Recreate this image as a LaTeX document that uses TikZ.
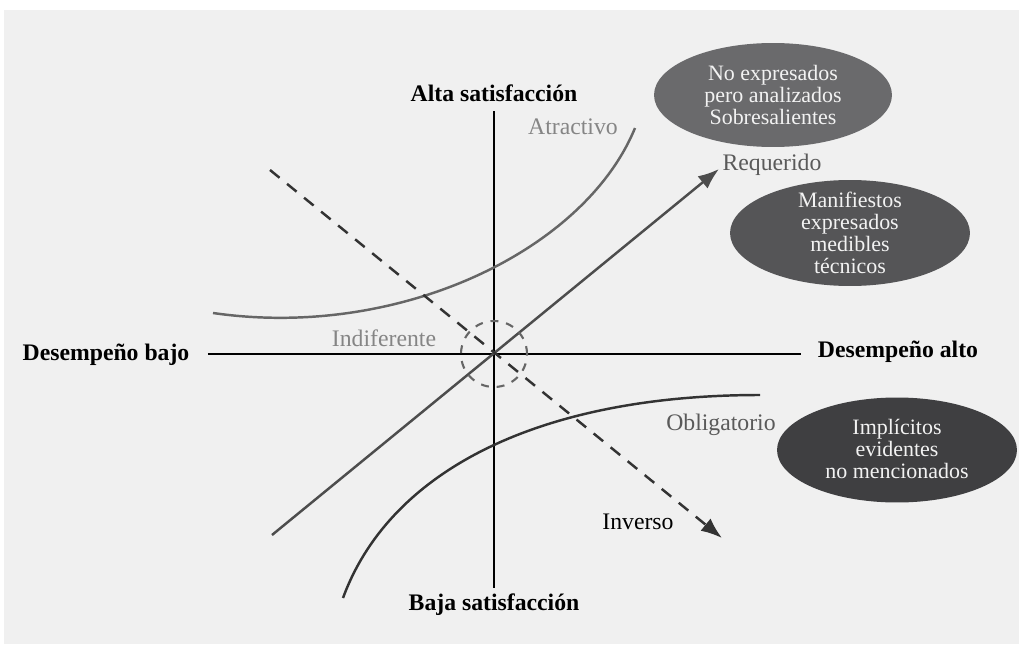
\documentclass[tikz,border=0pt]{standalone}
\usepackage{fontspec}
\setmainfont{Liberation Serif}
\usetikzlibrary{arrows.meta}
\definecolor{bggray}{HTML}{F0F0F0}
\definecolor{lightline}{HTML}{666666}
\definecolor{midline}{HTML}{4D4D4D}
\definecolor{darkline}{HTML}{333333}
\definecolor{labelgray}{HTML}{858585}
\definecolor{labeldark}{HTML}{5A5A5A}
\definecolor{blobA}{HTML}{6A6A6C}
\definecolor{blobB}{HTML}{555557}
\definecolor{blobC}{HTML}{3F3F41}
\definecolor{blobtext}{HTML}{F2F2F2}
\begin{document}
\begin{tikzpicture}[x=0.02cm, y=-0.02cm,
  axisline/.style={line width=0.8pt, black},
  kanocurve/.style={line width=1.4pt},
  axislabel/.style={font=\fontsize{13.5}{15}\selectfont\bfseries},
  kindlabel/.style={font=\fontsize{13.5}{15}\selectfont},
  blobtext/.style={font=\fontsize{12.5}{12.5}\selectfont, text=blobtext, align=center},
  headtip/.style={-{Latex[length=12pt,width=9pt]}}]
  \useasboundingbox (0,0) rectangle (1019,646);
  \fill[bggray] (4,10) rectangle (1019,644);
  % Axes
  \coordinate (O) at (494,354);
  \node[axislabel] (alta) at (494,93) {Alta satisfacción};
  \node[axislabel] (baja) at (494,605) {Baja satisfacción};
  \node[axislabel] (bajo) at (106,355) {Desempeño bajo};
  \node[axislabel] (alto) at (898,352) {Desempeño alto};
  \draw[axisline, shorten <=2pt] (alta.south) -- (baja.north);
  \draw[axisline, shorten <=7pt, shorten >=6pt] (bajo.east |- O) -- (alto.west |- O);
  % Attractive curve
  \draw[kanocurve, lightline] (213,313) .. controls (400,340) and (585,250) .. (635,128);
  \node[kindlabel, text=labelgray] (atractivo) at (573,127) {Atractivo};
  % Must-be curve
  \draw[kanocurve, darkline] (343,598) .. controls (390,470) and (540,395) .. (760,395);
  \node[kindlabel, text=labeldark] (obligatorio) at (721,425) {Obligatorio};
  % Required (one-dimensional)
  \coordinate (reqtail) at (272,535);
  \coordinate (reqhead) at (719,169);
  \draw[kanocurve, midline, headtip] (reqtail) -- (reqhead);
  \node[kindlabel, text=labeldark] (requerido) at (772,165) {Requerido};
  % Reverse (dashed)
  \coordinate (invtail) at (270,170);
  \coordinate (invhead) at (722,538);
  \draw[kanocurve, darkline, dash pattern=on 7pt off 5.5pt, headtip] (invtail) -- (invhead);
  \node[kindlabel, text=black] (inverso) at (638,522) {Inverso};
  % Indifferent
  \draw[line width=1.2pt, lightline, dash pattern=on 4.5pt off 4.5pt] (O) circle [radius=0.66cm];
  \node[kindlabel, text=labelgray] (indiferente) at (384,338) {Indiferente};
  % Ellipses
  \fill[blobA] (773,95) ellipse [x radius=2.38cm, y radius=1.04cm];
  \node[blobtext] (noexp) at (773,95) {No expresados\\pero analizados\\Sobresalientes};
  \fill[blobB] (850,233) ellipse [x radius=2.4cm, y radius=1.06cm];
  \node[blobtext] (manif) at (850,233) {Manifiestos\\expresados\\medibles\\técnicos};
  \fill[blobC] (897,450) ellipse [x radius=2.4cm, y radius=1.05cm];
  \node[blobtext] (implic) at (897,449) {Implícitos\\evidentes\\no mencionados};
\end{tikzpicture}
\end{document}
